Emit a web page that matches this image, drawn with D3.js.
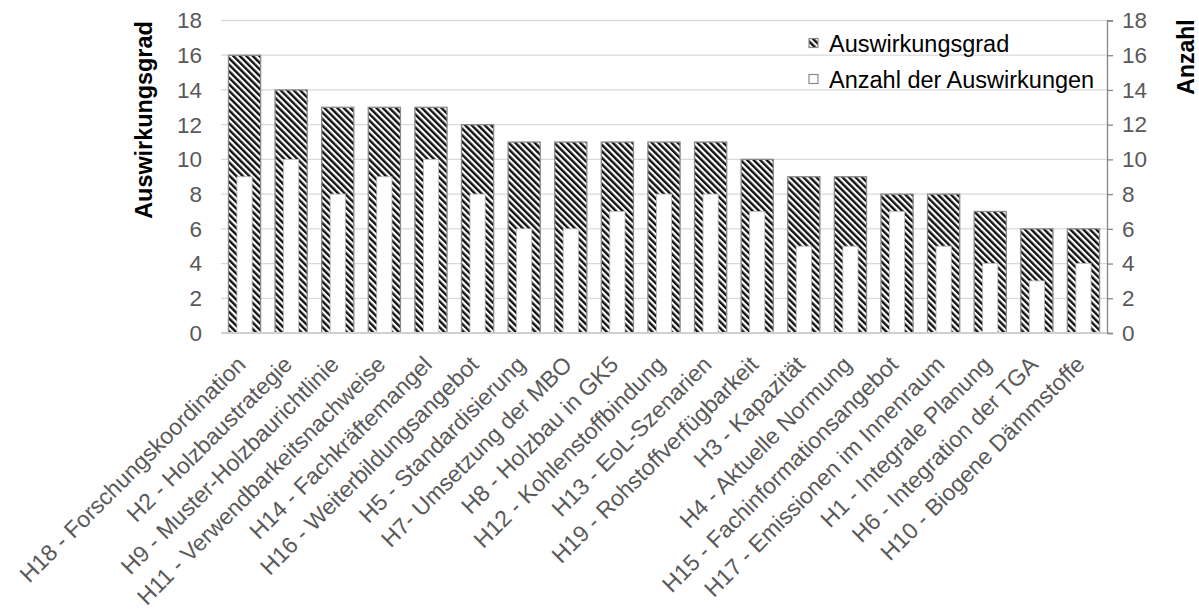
<!DOCTYPE html>
<html>
<head>
<meta charset="utf-8">
<script src="https://cdn.jsdelivr.net/npm/d3@7"></script>
<style>
  body { margin: 0; background: #fff; }
  text { font-family: "Liberation Sans", Arial, sans-serif; }
</style>
</head>
<body>
<svg id="chart" width="1199" height="615"></svg>
<script>
// categories (x axis)
const categories = [
  "H18 - Forschungskoordination", "H2 - Holzbaustrategie", "H9 - Muster-Holzbaurichtlinie",
  "H11 - Verwendbarkeitsnachweise", "H14 - Fachkräftemangel", "H16 - Weiterbildungsangebot",
  "H5 - Standardisierung", "H7-  Umsetzung der MBO", "H8 - Holzbau in GK5",
  "H12 - Kohlenstoffbindung", "H13 - EoL-Szenarien", "H19 - Rohstoffverfügbarkeit",
  "H3 - Kapazität", "H4 - Aktuelle Normung", "H15 - Fachinformationsangebot",
  "H17 - Emissionen im Innenraum", "H1 - Integrale Planung", "H6 - Integration der TGA",
  "H10 - Biogene Dämmstoffe"
];
// series
const auswirkungsgrad = [16, 14, 13, 13, 13, 12, 11, 11, 11, 11, 11, 10, 9, 9, 8, 8, 7, 6, 6];
const anzahl = [9, 10, 8, 9, 10, 8, 6, 6, 7, 8, 8, 7, 5, 5, 7, 5, 4, 3, 4];
const yTicks = [0, 2, 4, 6, 8, 10, 12, 14, 16, 18];
const legendLabels = ["Auswirkungsgrad", "Anzahl der Auswirkungen"];

const svg = d3.select("#chart");
const plotLeft = 221, plotRight = 1107, plotTop = 20.5, plotBottom = 333;

const x = d3.scaleBand().domain(categories).range([plotLeft, plotRight]).paddingInner(0.31).paddingOuter(0.16);
const y = d3.scaleLinear().domain([0, 18]).range([plotBottom, plotTop]);
const y2 = d3.scaleLinear().domain([0, 18]).range([plotBottom, plotTop]);

// hatch pattern
const defs = svg.append("defs");
const pat = defs.append("pattern")
  .attr("id", "hatch")
  .attr("patternUnits", "userSpaceOnUse")
  .attr("width", 4.6)
  .attr("height", 4.6)
  .attr("patternTransform", "rotate(-45)");
pat.append("rect").attr("width", 4.6).attr("height", 4.6).attr("fill", "#fff");
pat.append("rect").attr("width", 2.4).attr("height", 4.6).attr("fill", "#111");

// grid
svg.append("g")
  .selectAll("line")
  .data(yTicks.filter(d => d > 0))
  .join("line")
  .attr("x1", plotLeft).attr("x2", plotRight)
  .attr("y1", d => y(d)).attr("y2", d => y(d))
  .attr("stroke", "#d9d9d9").attr("stroke-width", 1.3);

// left tick labels
svg.append("g")
  .selectAll("text")
  .data(yTicks)
  .join("text")
  .attr("x", 202).attr("y", d => y(d))
  .attr("dy", "0.35em")
  .attr("text-anchor", "end")
  .attr("font-size", 22.5)
  .attr("fill", "#595959")
  .text(d => d);

// right axis
const rAxis = svg.append("g")
  .attr("transform", "translate(" + plotRight + ",0)")
  .call(d3.axisRight(y2).tickValues(yTicks).tickSize(6).tickPadding(9));
rAxis.select(".domain").attr("stroke", "#868686").attr("stroke-width", 1.3);
rAxis.selectAll(".tick line").attr("stroke", "#868686").attr("stroke-width", 1.3);
rAxis.selectAll(".tick text")
  .attr("font-size", 22.5)
  .attr("fill", "#595959")
  .attr("font-family", "Liberation Sans, Arial, sans-serif");

// bars
const bars = svg.append("g");
bars.selectAll("rect.grad")
  .data(categories)
  .join("rect")
  .attr("class", "grad")
  .attr("x", d => x(d))
  .attr("width", x.bandwidth())
  .attr("y", (d, i) => y(auswirkungsgrad[i]))
  .attr("height", (d, i) => y(0) - y(auswirkungsgrad[i]))
  .attr("fill", "url(#hatch)")
  .attr("stroke", "#8a8a8a")
  .attr("stroke-width", 1.3);

const innerW = x.bandwidth() * 0.47;
bars.selectAll("rect.anz")
  .data(categories)
  .join("rect")
  .attr("class", "anz")
  .attr("x", d => x(d) + (x.bandwidth() - innerW) / 2)
  .attr("width", innerW)
  .attr("y", (d, i) => y2(anzahl[i]))
  .attr("height", (d, i) => y2(0) - y2(anzahl[i]))
  .attr("fill", "#fff")
  .attr("stroke", "#bdbdbd")
  .attr("stroke-width", 0.8);

// baseline
svg.append("line")
  .attr("x1", plotLeft).attr("x2", plotRight)
  .attr("y1", y(0)).attr("y2", y(0))
  .attr("stroke", "#d0d0d0").attr("stroke-width", 2);

// x labels
svg.append("g")
  .selectAll("text")
  .data(categories)
  .join("text")
  .attr("transform", d => "translate(" + (x(d) + x.bandwidth() / 2 + 2.5) + ",366) rotate(-45)")
  .attr("text-anchor", "end")
  .attr("font-size", 23)
  .attr("fill", "#595959")
  .text(d => d);

// axis titles
svg.append("text")
  .attr("transform", "translate(152,120) rotate(-90)")
  .attr("text-anchor", "middle")
  .attr("font-size", 23.4)
  .attr("font-weight", "bold")
  .attr("fill", "#000")
  .text("Auswirkungsgrad");
svg.append("text")
  .attr("transform", "translate(1194,57) rotate(-90)")
  .attr("text-anchor", "middle")
  .attr("font-size", 23)
  .attr("font-weight", "bold")
  .attr("fill", "#000")
  .text("Anzahl");

// legend
const legend = svg.append("g").attr("transform", "translate(809,0)");
const lg = legend.selectAll("g")
  .data(legendLabels)
  .join("g")
  .attr("transform", (d, i) => "translate(0," + (43 + i * 36) + ")");
lg.append("rect")
  .attr("x", 0).attr("y", -4.5).attr("width", 9).attr("height", 9)
  .attr("fill", (d, i) => i === 0 ? "url(#hatch)" : "#fff")
  .attr("stroke", "#8a8a8a").attr("stroke-width", 1.2);
lg.append("text")
  .attr("x", 20).attr("y", 9)
  .attr("font-size", 23.5)
  .attr("fill", "#000")
  .text(d => d);
</script>
</body>
</html>
